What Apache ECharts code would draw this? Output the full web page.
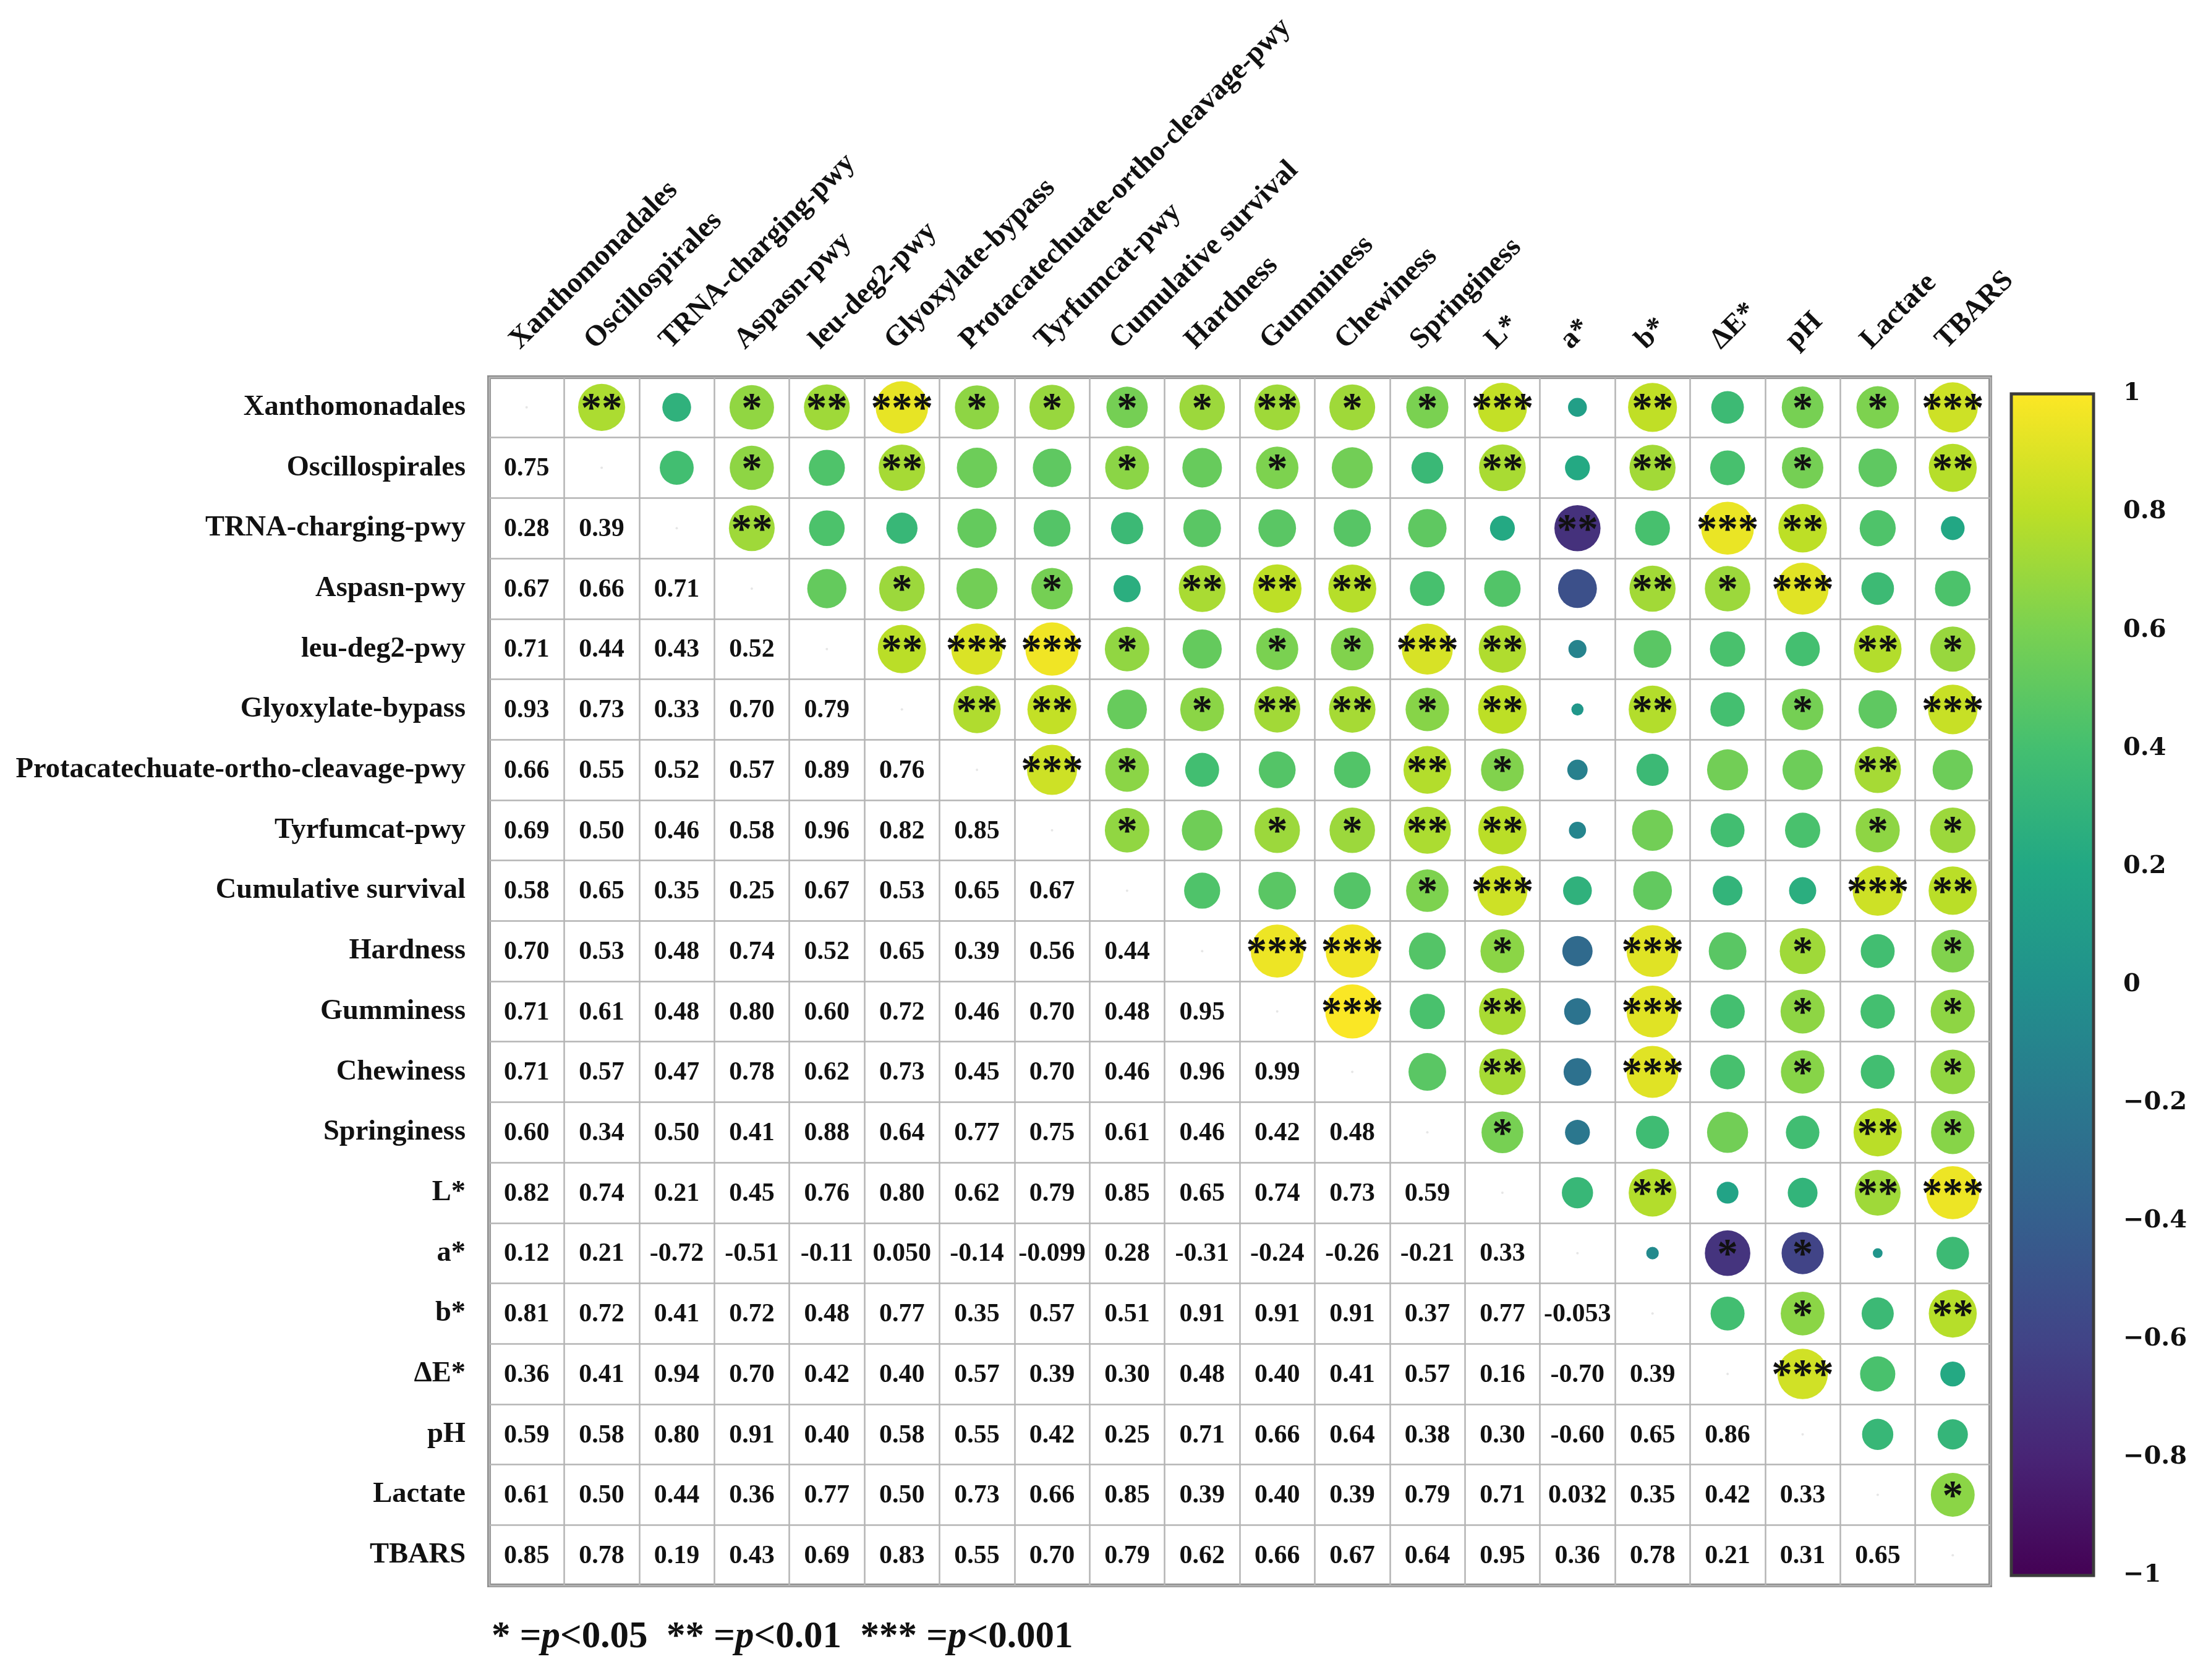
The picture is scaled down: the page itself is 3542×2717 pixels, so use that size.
<!DOCTYPE html>
<html>
<head>
<meta charset="utf-8">
<script src="https://cdn.jsdelivr.net/npm/echarts@6/dist/echarts.min.js"></script>
<style>
html,body{margin:0;padding:0;background:#fff;}
#chart{width:3542px;height:2717px;}
</style>
</head>
<body>
<div id="chart"></div>
<script>
// ---- data ----
const variables = ['Xanthomonadales','Oscillospirales','TRNA-charging-pwy','Aspasn-pwy','leu-deg2-pwy',
  'Glyoxylate-bypass','Protacatechuate-ortho-cleavage-pwy','Tyrfumcat-pwy','Cumulative survival','Hardness',
  'Gumminess','Chewiness','Springiness','L*','a*','b*','\u0394E*','pH','Lactate','TBARS'];

// lower triangle correlations: row i holds r(i, j) for j < i
const corrLower = [
  [],
  [0.75],
  [0.28,0.39],
  [0.67,0.66,0.71],
  [0.71,0.44,0.43,0.52],
  [0.93,0.73,0.33,0.70,0.79],
  [0.66,0.55,0.52,0.57,0.89,0.76],
  [0.69,0.50,0.46,0.58,0.96,0.82,0.85],
  [0.58,0.65,0.35,0.25,0.67,0.53,0.65,0.67],
  [0.70,0.53,0.48,0.74,0.52,0.65,0.39,0.56,0.44],
  [0.71,0.61,0.48,0.80,0.60,0.72,0.46,0.70,0.48,0.95],
  [0.71,0.57,0.47,0.78,0.62,0.73,0.45,0.70,0.46,0.96,0.99],
  [0.60,0.34,0.50,0.41,0.88,0.64,0.77,0.75,0.61,0.46,0.42,0.48],
  [0.82,0.74,0.21,0.45,0.76,0.80,0.62,0.79,0.85,0.65,0.74,0.73,0.59],
  [0.12,0.21,-0.72,-0.51,-0.11,0.050,-0.14,-0.099,0.28,-0.31,-0.24,-0.26,-0.21,0.33],
  [0.81,0.72,0.41,0.72,0.48,0.77,0.35,0.57,0.51,0.91,0.91,0.91,0.37,0.77,-0.053],
  [0.36,0.41,0.94,0.70,0.42,0.40,0.57,0.39,0.30,0.48,0.40,0.41,0.57,0.16,-0.70,0.39],
  [0.59,0.58,0.80,0.91,0.40,0.58,0.55,0.42,0.25,0.71,0.66,0.64,0.38,0.30,-0.60,0.65,0.86],
  [0.61,0.50,0.44,0.36,0.77,0.50,0.73,0.66,0.85,0.39,0.40,0.39,0.79,0.71,0.032,0.35,0.42,0.33],
  [0.85,0.78,0.19,0.43,0.69,0.83,0.55,0.70,0.79,0.62,0.66,0.67,0.64,0.95,0.36,0.78,0.21,0.31,0.65]
];

// significance stars in the upper triangle: row i holds star counts for columns j > i
const sigUpper = [
  [2,0,1,2,3,1,1,1,1,2,1,1,3,0,2,0,1,1,3],
  [0,1,0,2,0,0,1,0,1,0,0,2,0,2,0,1,0,2],
  [2,0,0,0,0,0,0,0,0,0,0,2,0,3,2,0,0],
  [0,1,0,1,0,2,2,2,0,0,0,2,1,3,0,0],
  [2,3,3,1,0,1,1,3,2,0,0,0,0,2,1],
  [2,2,0,1,2,2,1,2,0,2,0,1,0,3],
  [3,1,0,0,0,2,1,0,0,0,0,2,0],
  [1,0,1,1,2,2,0,0,0,0,1,1],
  [0,0,0,1,3,0,0,0,0,3,2],
  [3,3,0,1,0,3,0,1,0,1],
  [3,0,2,0,3,0,1,0,1],
  [0,2,0,3,0,1,0,1],
  [1,0,0,0,0,2,1],
  [0,2,0,0,2,3],
  [0,1,1,0,0],
  [0,1,0,2],
  [3,0,0],
  [0,0],
  [1],
  []
];

const colorbarTicks = [-1,-0.8,-0.6,-0.4,-0.2,0,0.2,0.4,0.6,0.8,1];
const viridis = ['#440154','#482475','#414487','#355f8d','#2a788e','#21918c','#22a884','#44bf70','#7ad151','#bddf26','#fde725'];

// ---- build cell data: [col, row, r, stars, kind] kind 0=lower text, 1=upper circle, 2=diagonal
const n = variables.length;
function corr(i, j) { return i > j ? corrLower[i][j] : corrLower[j][i]; }
const cells = [];
for (let i = 0; i < n; i++) {
  for (let j = 0; j < n; j++) {
    if (i === j) cells.push([j, i, 1, 0, 2]);
    else if (i > j) cells.push([j, i, corr(i, j), 0, 0]);
    else cells.push([j, i, corr(i, j), sigUpper[i][j - i - 1], 1]);
  }
}
const headerData = variables.map((v, j) => [j, 0]);

const SERIF = '"Liberation Serif","Times New Roman",serif';

function renderCell(params, api) {
  const col = api.value(0), row = api.value(1), r = api.value(2), sig = api.value(3), kind = api.value(4);
  const c = api.coord([col, row]);
  const s = api.size([1, 1]);
  if (kind === 0) {
    return {type: 'text', style: {x: c[0], y: c[1] + 2, text: Number(r).toPrecision(2), fill: '#111',
      font: 'bold 42px ' + SERIF, align: 'center', verticalAlign: 'middle'}};
  }
  if (kind === 2) {
    return {type: 'circle', shape: {cx: c[0], cy: c[1], r: 2}, style: {fill: '#e6e6e6'}};
  }
  const rad = s[1] * 0.45 * Math.sqrt(Math.abs(r));
  const children = [{type: 'circle', shape: {cx: c[0], cy: c[1], r: rad}, style: {fill: api.visual('color')}}];
  if (sig > 0) {
    children.push({type: 'text', style: {x: c[0], y: c[1] + 5, text: '*'.repeat(sig), fill: '#111',
      font: 'bold 67px ' + SERIF, align: 'center', verticalAlign: 'middle'}});
  }
  return {type: 'group', children: children};
}

function renderHeader(params, api) {
  const col = api.value(0);
  const c = api.coord([col, 0]);
  const s = api.size([1, 1]);
  return {type: 'text', x: c[0] - 3, y: c[1] - s[1] / 2 - 36, rotation: Math.PI / 4,
    style: {x: 0, y: 0, text: variables[col], fill: '#111', font: 'bold 47px ' + SERIF,
      align: 'left', verticalAlign: 'bottom'}};
}

function renderColorbar(params, api) {
  const cs = params.coordSys;
  const stops = viridis.map((c, k) => ({offset: k / (viridis.length - 1), color: c}));
  return {type: 'rect', shape: {x: cs.x, y: cs.y, width: cs.width, height: cs.height},
    style: {fill: {type: 'linear', x: 0, y: 1, x2: 0, y2: 0, colorStops: stops},
      stroke: '#3c3c3c', lineWidth: 5}};
}

const chart = echarts.init(document.getElementById('chart'));
chart.setOption({
  backgroundColor: '#ffffff',
  animation: false,
  grid: [
    {left: 791, right: 323, top: 610, bottom: 153, show: true, borderColor: '#8f8f8f', borderWidth: 6, backgroundColor: 'transparent'},
    {left: 3253, width: 133, top: 637, height: 1911}
  ],
  xAxis: [
    {type: 'category', data: variables, gridIndex: 0, position: 'top',
      axisLine: {show: false}, axisTick: {show: false}, axisLabel: {show: false},
      splitLine: {show: true, interval: 0, lineStyle: {color: '#b4b4b4', width: 2.5}}},
    {type: 'value', gridIndex: 1, min: 0, max: 1, show: false}
  ],
  yAxis: [
    {type: 'category', data: variables, gridIndex: 0, inverse: true,
      axisLine: {show: false}, axisTick: {show: false},
      axisLabel: {margin: 38, color: '#111', fontFamily: SERIF, fontWeight: 'bold', fontSize: 46.5},
      splitLine: {show: true, interval: 0, lineStyle: {color: '#b4b4b4', width: 2.5}}},
    {type: 'value', gridIndex: 1, min: -1, max: 1, interval: 0.2, position: 'right',
      axisLine: {show: true, lineStyle: {color: '#222', width: 3}},
      axisTick: {show: true, length: 32, lineStyle: {color: '#222', width: 3}},
      splitLine: {show: false},
      axisLabel: {margin: 48, color: '#111', fontFamily: '"DejaVu Serif",serif', fontWeight: 'bold', fontSize: 40,
        formatter: function (v) {
          const x = Math.round(v * 10) / 10;
          if (x === 0) return '0';
          return (x < 0 ? '\u2212' : '') + String(Math.abs(x));
        }}}
  ],
  visualMap: {type: 'continuous', show: false, min: -1, max: 1, dimension: 2, seriesIndex: 0,
    inRange: {color: viridis}},
  series: [
    {type: 'custom', xAxisIndex: 0, yAxisIndex: 0, data: cells, renderItem: renderCell, clip: false, silent: true},
    {type: 'custom', xAxisIndex: 0, yAxisIndex: 0, data: headerData, renderItem: renderHeader, clip: false, silent: true},
    {type: 'custom', xAxisIndex: 1, yAxisIndex: 1, data: [[0.5, 0]], renderItem: renderColorbar, clip: false, silent: true, z: 1}
  ],
  graphic: [
    {type: 'text', left: 795, top: 2618, style: {
      text: '{b|* =}{i|p}{b|<0.05  ** =}{i|p}{b|<0.01  *** =}{i|p}{b|<0.001}',
      rich: {
        b: {font: 'bold 61px ' + SERIF, fill: '#111'},
        i: {font: 'italic bold 61px ' + SERIF, fill: '#111'}
      }}}
  ]
});
</script>
</body>
</html>
